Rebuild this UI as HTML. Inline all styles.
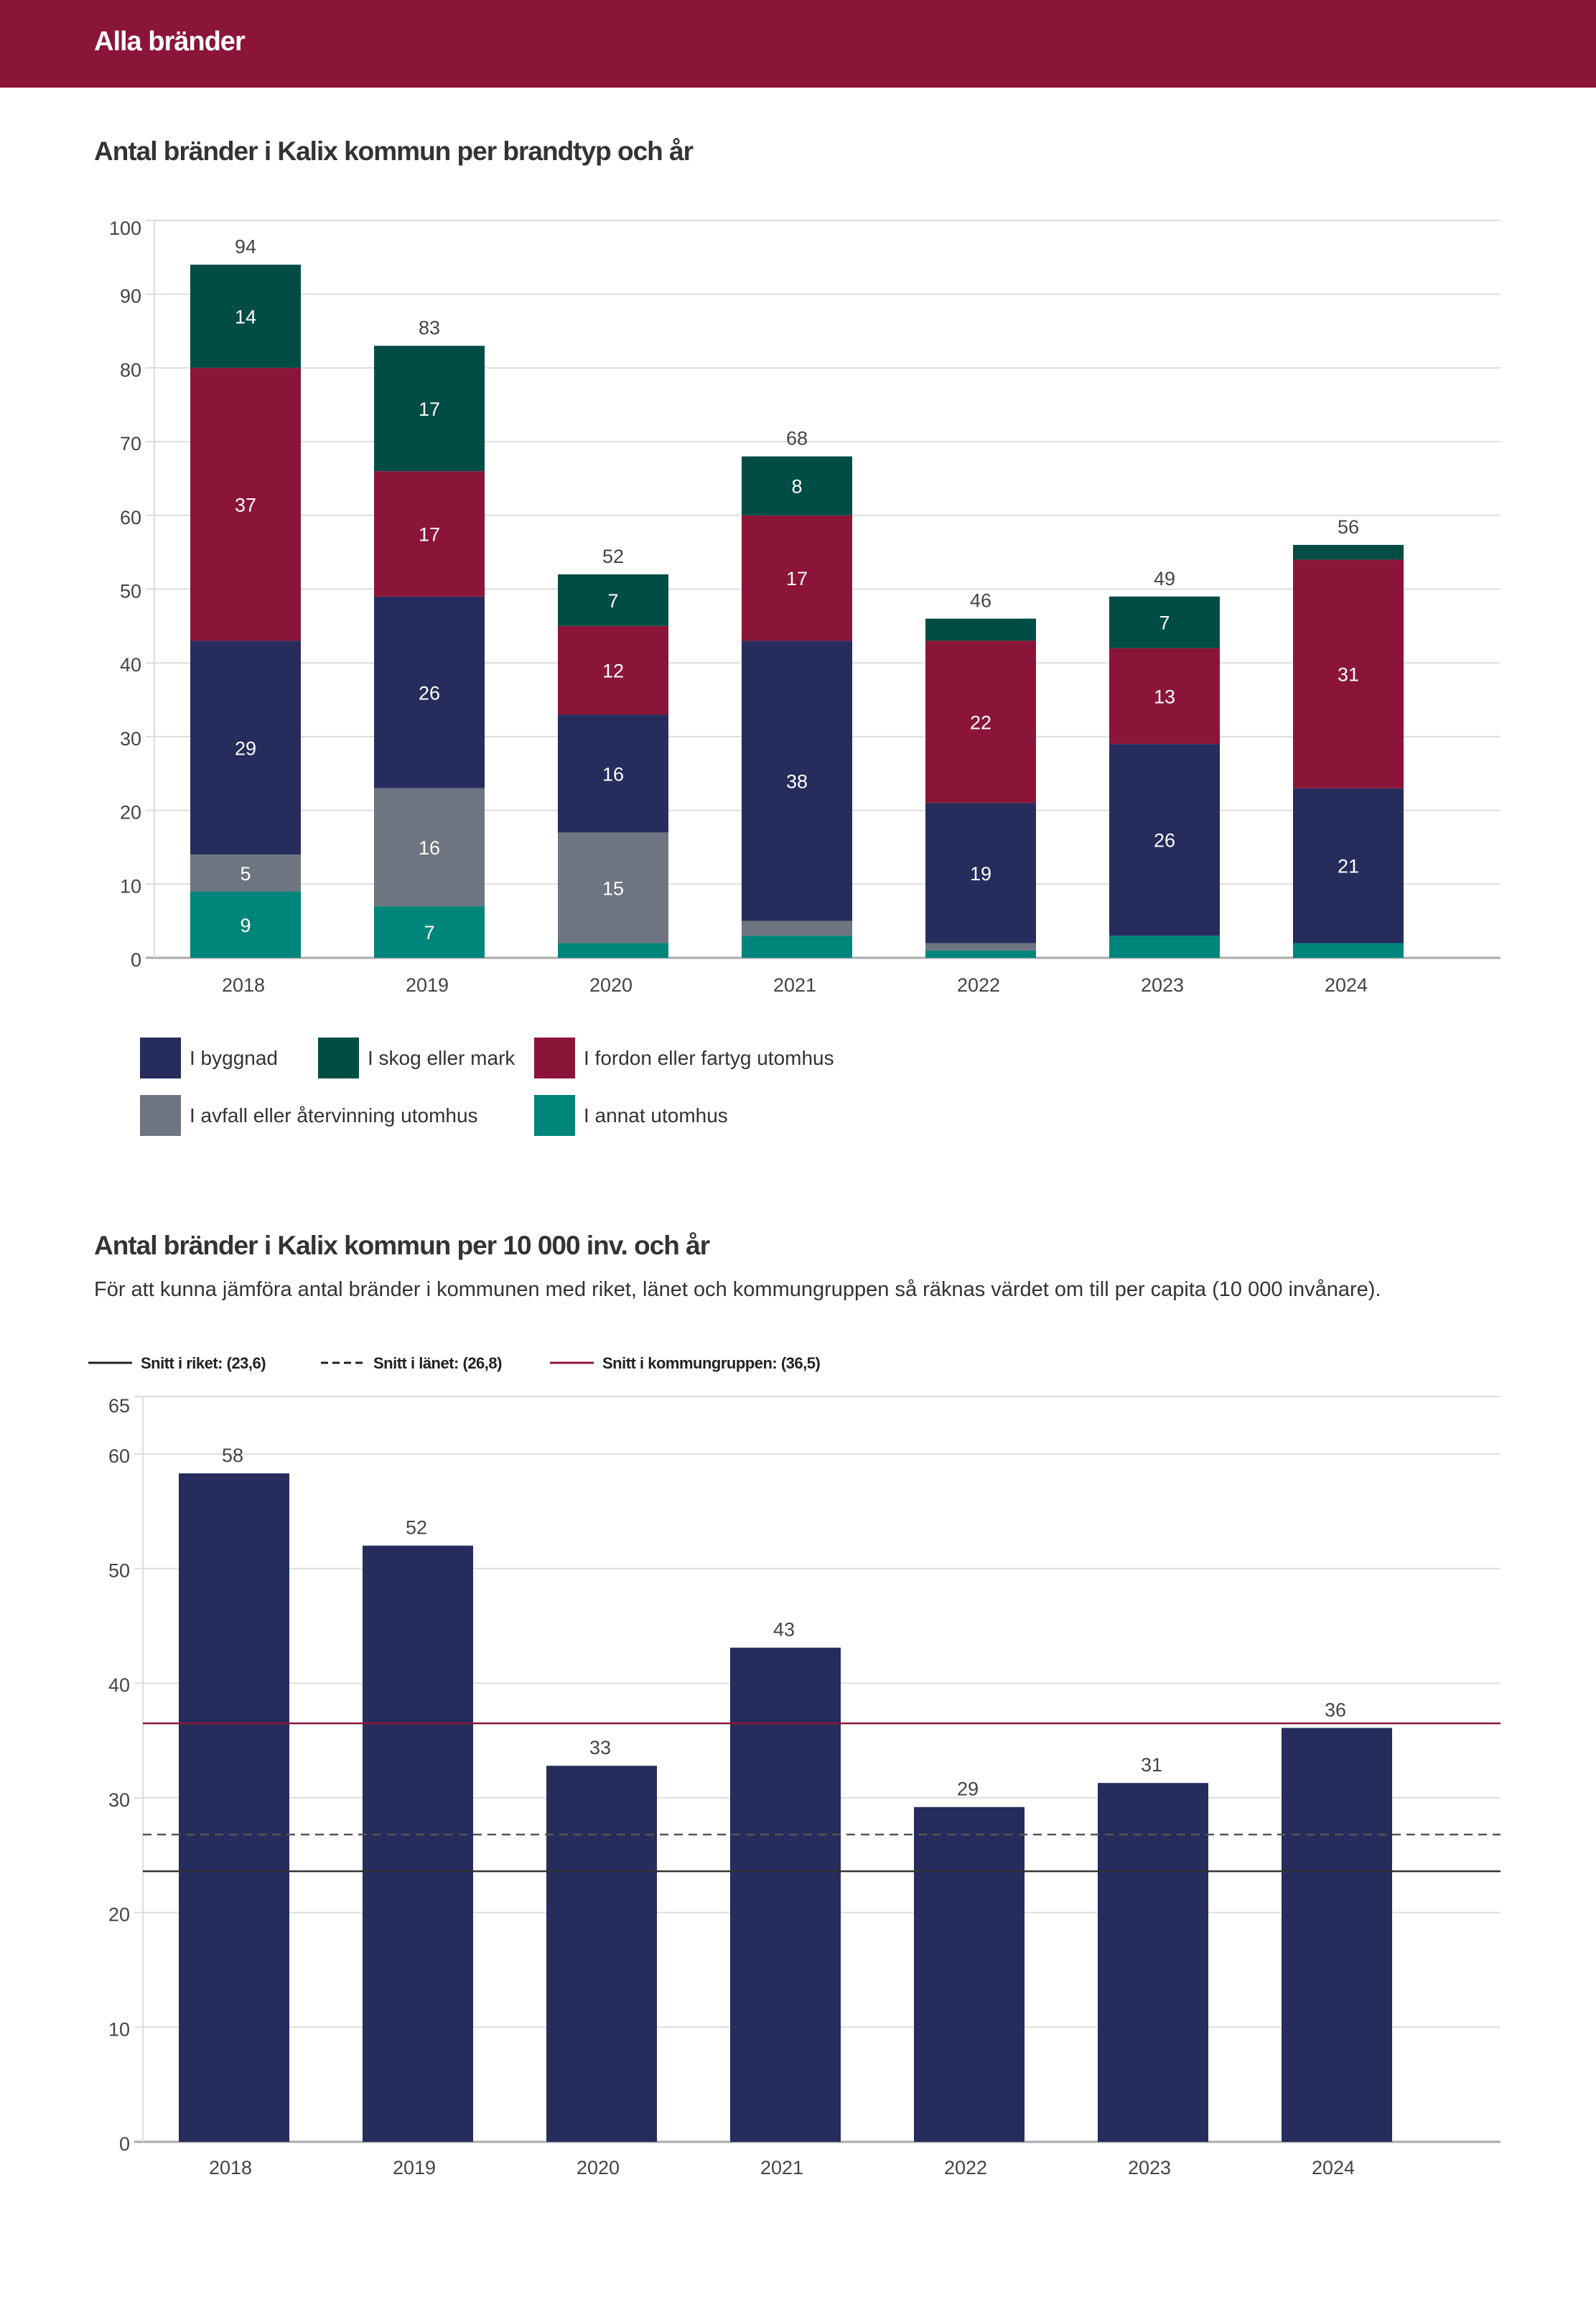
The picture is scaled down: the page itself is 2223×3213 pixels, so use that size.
<!DOCTYPE html>
<html><head><meta charset="utf-8">
<style>
html,body{margin:0;padding:0;background:#fff;}
body{width:2223px;height:3213px;position:relative;overflow:hidden;font-family:"Liberation Sans",sans-serif;color:#333;}
#header{position:absolute;left:0;top:0;width:2223px;height:122px;background:#8b1538;}
#header h1{position:absolute;left:131px;top:37px;margin:0;font-size:38px;font-weight:bold;color:#fff;letter-spacing:-1px;}
.title{position:absolute;left:131px;margin:0;font-size:37px;font-weight:bold;color:#333;letter-spacing:-1px;}
.sub{position:absolute;left:131px;top:1780px;margin:0;font-size:29px;color:#333;}
svg{position:absolute;left:0;top:0;}
</style></head>
<body>
<div id="header"><h1>Alla bränder</h1></div>
<h2 class="title" style="top:190px">Antal bränder i Kalix kommun per brandtyp och år</h2>
<h2 class="title" style="top:1714px">Antal bränder i Kalix kommun per 10 000 inv. och år</h2>
<p class="sub">För att kunna jämföra antal bränder i kommunen med riket, länet och kommungruppen så räknas värdet om till per capita (10 000 invånare).</p>
<svg id="svg" width="2223" height="3213" xmlns="http://www.w3.org/2000/svg"></svg>
<script>
const years=["2018","2019","2020","2021","2022","2023","2024"];
const annat=[9,7,2,3,1,3,2];
const avfall=[5,16,15,2,1,0,0];
const byggnad=[29,26,16,38,19,26,21];
const fordon=[37,17,12,17,22,13,31];
const skog=[14,17,7,8,3,7,2];
const ticks1=[0,10,20,30,40,50,60,70,80,90,100];
const perCapita=[58.3,52,32.8,43.1,29.2,31.3,36.1];
const perCapitaLabels=["58","52","33","43","29","31","36"];
const ticks2=[0,10,20,30,40,50,60,65];
const refRiket=23.6, refLanet=26.8, refGrupp=36.5;

const NS="http://www.w3.org/2000/svg";
const svg=document.getElementById('svg');
function mk(tag,attrs,parent){const e=document.createElementNS(NS,tag);for(const k in attrs)e.setAttribute(k,attrs[k]);(parent||svg).appendChild(e);return e;}
function txt(s,attrs){const e=mk('text',attrs);e.textContent=s;return e;}

// chart 1
const L1=215,R1=2090,T1=307,B1=1334,max1=100;
const y1=v=>B1-(v/max1)*(B1-T1);
const x1=i=>342+i*256;
const bw=154;
ticks1.forEach(t=>{
  const g=mk('line',{x1:L1-12,x2:R1,y1:y1(t),y2:y1(t),stroke:t===0?'#aaa':'#ddd','stroke-width':t===0?3:2});
  
  
  const l=txt(String(t),{x:197,y:y1(t)+(t===100?20:12),'text-anchor':'end','font-size':27,fill:'#444'});
  
  
});
mk('line',{x1:L1,x2:L1,y1:T1,y2:B1,stroke:'#ddd','stroke-width':2});
const series=[
  {name:'annat',vals:annat,color:'#00857a'},
  {name:'avfall',vals:avfall,color:'#6e7580'},
  {name:'byggnad',vals:byggnad,color:'#262d5c'},
  {name:'fordon',vals:fordon,color:'#8b1538'},
  {name:'skog',vals:skog,color:'#004d45'}];
years.forEach((yr,i)=>{
  let acc=0;
  series.forEach(s=>{
    const v=s.vals[i]; if(v<=0)return;
    const r=mk('rect',{x:x1(i)-bw/2,y:y1(acc+v),width:bw,height:y1(acc)-y1(acc+v),fill:s.color});
    
    
    if(v>=5){
      const t=txt(String(v),{x:x1(i),y:(y1(acc)+y1(acc+v))/2+10,'text-anchor':'middle','font-size':27,fill:'#fff'});
      
      
    }
    acc+=v;
  });
  const tl=txt(String(acc),{x:x1(i),y:y1(acc)-16,'text-anchor':'middle','font-size':27,fill:'#444'});
  
  
  const xl=txt(yr,{x:x1(i)-3,y:1381,'text-anchor':'middle','font-size':27,fill:'#444'});
  
  
});
// legend 1
const leg=[
  ['I byggnad','#262d5c',195,1445],['I skog eller mark','#004d45',443,1445],['I fordon eller fartyg utomhus','#8b1538',744,1445],
  ['I avfall eller återvinning utomhus','#6e7580',195,1525],['I annat utomhus','#00857a',744,1525]];
leg.forEach(([n,c,x,y])=>{
  const r=mk('rect',{x:x,y:y,width:57,height:57,fill:c});
  
  
  const t=txt(n,{x:x+69,y:y+38,'font-size':28,fill:'#333'});
  
  
});

// chart 2
const L2=199,R2=2090,T2=1945,B2=2983,max2=65;
const y2=v=>B2-(v/max2)*(B2-T2);
const x2=i=>326+i*256;
ticks2.forEach(t=>{
  const g=mk('line',{x1:L2-12,x2:R2,y1:y2(t),y2:y2(t),stroke:t===0?'#aaa':'#ddd','stroke-width':t===0?3:2});
  
  
  const l=txt(String(t),{x:181,y:y2(t)+(t===65?22:12),'text-anchor':'end','font-size':27,fill:'#444'});
  
  
});
mk('line',{x1:L2,x2:L2,y1:T2,y2:B2,stroke:'#ddd','stroke-width':2});
years.forEach((yr,i)=>{
  const v=perCapita[i];
  const r=mk('rect',{x:x2(i)-bw/2,y:y2(v),width:bw,height:B2-y2(v),fill:'#262d5c'});
  
  
  const t=txt(perCapitaLabels[i],{x:x2(i)-2,y:y2(v)-16,'text-anchor':'middle','font-size':27,fill:'#444'});
  
  
  const xl=txt(yr,{x:x2(i)-5,y:3028,'text-anchor':'middle','font-size':27,fill:'#444'});
  
  
});
const refs=[[refRiket,'#333',''],[refLanet,'#555','12,8'],[refGrupp,'#8b1538','']];
refs.forEach(([v,c,d],k)=>{
  const l=mk('line',{x1:L2,x2:R2,y1:y2(v),y2:y2(v),stroke:c,'stroke-width':2.5,'stroke-dasharray':d||'none'});
  
  
});
const leg2=[['Snitt i riket: (23,6)','#222','',123],['Snitt i länet: (26,8)','#222','10,6',447],['Snitt i kommungruppen: (36,5)','#8b1538','',766]];
leg2.forEach(([n,c,d,x])=>{
  const l=mk('line',{x1:x,x2:x+61,y1:1898,y2:1898,stroke:c,'stroke-width':3,'stroke-dasharray':d||'none'});
  
  
  const t=txt(n,{x:x+73,y:1906,'font-size':22,'font-weight':'bold',fill:'#222','letter-spacing':'-0.5'});
  
  
});
</script>
</body></html>
